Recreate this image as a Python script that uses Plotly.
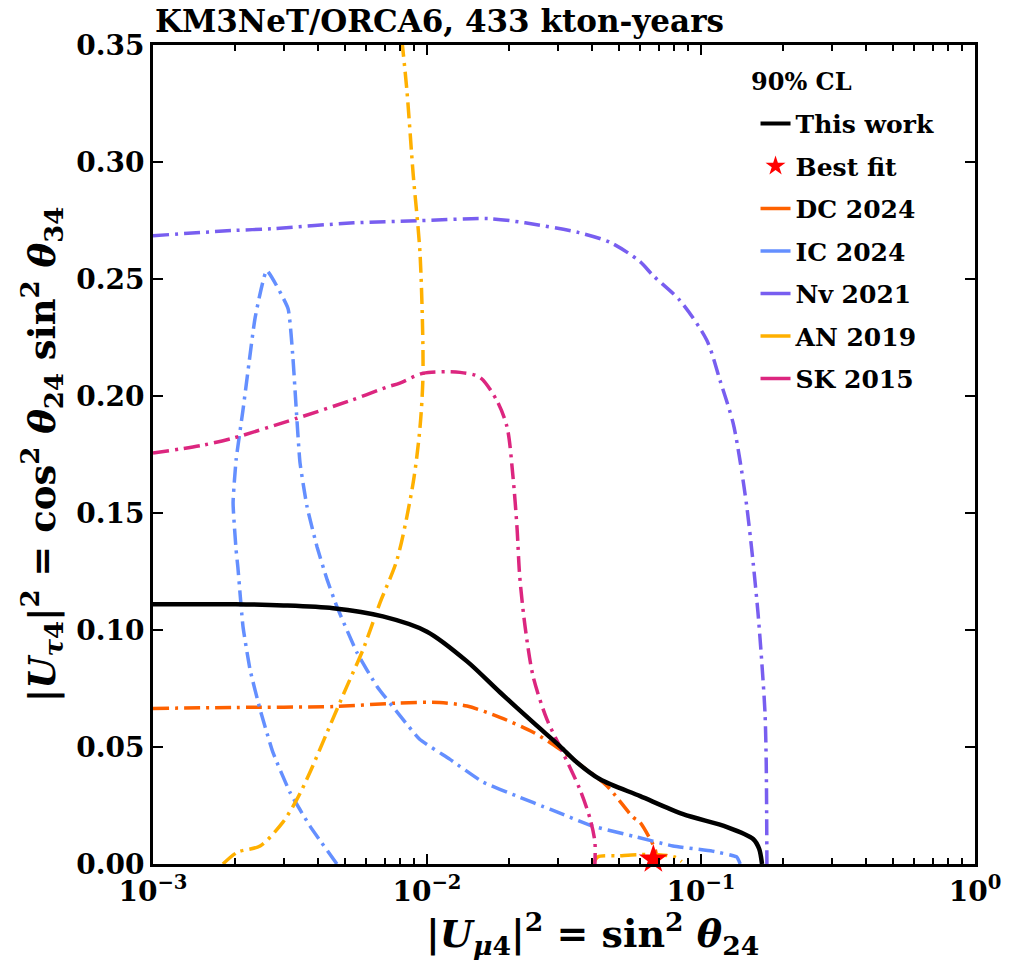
import plotly.graph_objects as go

# ---- 90% CL contours in the (|U_mu4|^2, |U_tau4|^2) plane ----
this_work_x = [0.001, 0.002, 0.003, 0.00454, 0.0069, 0.01, 0.014, 0.0185, 0.0244,
               0.0306, 0.0352, 0.0428, 0.060, 0.086, 0.1245, 0.155, 0.163, 0.167]
this_work_y = [0.111, 0.111, 0.1105, 0.1093, 0.1058, 0.0993, 0.0866, 0.0733, 0.0605,
               0.0503, 0.0435, 0.0362, 0.0290, 0.0213, 0.0158, 0.0107, 0.0065, 0.0]

best_fit_x = [0.067]
best_fit_y = [0.002]

dc2024_x = [0.001, 0.002, 0.0046, 0.0079, 0.0111, 0.014, 0.01845, 0.0244, 0.0298, 0.0361,
            0.0454, 0.0565, 0.0598, 0.0652, 0.068, 0.069]
dc2024_y = [0.0665, 0.0669, 0.0673, 0.0688, 0.069, 0.0675, 0.0627, 0.0563, 0.0499, 0.0426,
            0.0333, 0.0200, 0.0179, 0.0107, 0.0064, 0.002]

ic2024_x = [0.00469, 0.00374, 0.00316, 0.00274, 0.00246, 0.00226, 0.00213, 0.00204, 0.00201,
            0.00196, 0.00201, 0.00213, 0.00224, 0.00236, 0.0026, 0.00311, 0.00324, 0.00333,
            0.00344, 0.00365, 0.00397, 0.00432, 0.00469, 0.00555, 0.00657, 0.00817, 0.0094,
            0.0121, 0.016, 0.0213, 0.0281, 0.0403, 0.0565, 0.079, 0.11, 0.135, 0.139]
ic2024_y = [0.0, 0.0162, 0.0307, 0.0477, 0.066, 0.0831, 0.1015, 0.127, 0.1343,
            0.1543, 0.1726, 0.194, 0.214, 0.2336, 0.2536, 0.2374, 0.2165, 0.195,
            0.1714, 0.1526, 0.1355, 0.1215, 0.110, 0.0904, 0.0759, 0.0618, 0.0533,
            0.0448, 0.035, 0.029, 0.0234, 0.0162, 0.0119, 0.0077, 0.0055, 0.003, 0.0]

nv2021_x = [0.001, 0.00194, 0.00272, 0.00541, 0.00935, 0.01683, 0.0228, 0.0359, 0.0469,
            0.0598, 0.0668, 0.0838, 0.105, 0.1173, 0.131, 0.1387, 0.147, 0.155, 0.1614,
            0.1667, 0.1712, 0.173, 0.174]
nv2021_y = [0.2685, 0.2707, 0.2715, 0.274, 0.2749, 0.2758, 0.274, 0.2698, 0.2655,
            0.2575, 0.2515, 0.2408, 0.2238, 0.2067, 0.1884, 0.1726, 0.1526, 0.1287, 0.1074,
            0.0861, 0.0648, 0.0435, 0.0]

# two pieces: the main branch and a small island near the bottom (None splits them)
an2019_x = [0.0018, 0.00203, 0.00246, 0.00298, 0.003355, 0.00374, 0.00432, 0.0051, 0.00584,
            0.00674, 0.00777, 0.0089, 0.00943, 0.00967, 0.00943, 0.0089, 0.00845, 0.0081,
            None, 0.0405, 0.042, 0.05, 0.06, 0.07, 0.08, 0.085]
an2019_y = [0.0, 0.005, 0.0077, 0.0179, 0.0277, 0.0392, 0.0563, 0.0759, 0.0916,
            0.1117, 0.13, 0.1628, 0.1867, 0.2097, 0.2609, 0.295, 0.3303, 0.352,
            None, 0.0, 0.003, 0.0035, 0.004, 0.004, 0.003, 0.001]

sk2015_x = [0.001, 0.00152, 0.00196, 0.003355, 0.00524, 0.00714, 0.00796, 0.00967, 0.0132,
            0.0156, 0.018, 0.0196, 0.0206, 0.0213, 0.0218, 0.0228, 0.0244, 0.0274, 0.0313,
            0.0361, 0.0394, 0.041, 0.041]
sk2015_y = [0.1756, 0.179, 0.182, 0.1905, 0.198, 0.2038, 0.2055, 0.2097, 0.2101,
            0.208, 0.198, 0.1867, 0.1654, 0.144, 0.1228, 0.1015, 0.0801, 0.0618, 0.0477,
            0.032, 0.0192, 0.0094, 0.0]

x_tickvals = [1e-3, 1e-2, 1e-1, 1e0]
x_ticktext = ["10<sup>−3</sup>", "10<sup>−2</sup>", "10<sup>−1</sup>", "10<sup>0</sup>"]
x_minor = [m * 10 ** e for e in (-3, -2, -1) for m in range(2, 10)]
y_tickvals = [0.0, 0.05, 0.10, 0.15, 0.20, 0.25, 0.30, 0.35]
y_ticktext = ["0.00", "0.05", "0.10", "0.15", "0.20", "0.25", "0.30", "0.35"]

BLACK = "#000000"
ORANGE = "#FE6100"
BLUE = "#648FFF"
PURPLE = "#785EF0"
YELLOW = "#FFB000"
MAGENTA = "#DC267F"
DASHDOT = "16px,6px,3px,6px"
FONT = "DejaVu Serif"

fig = go.Figure()

contours = [
    ("DC 2024", dc2024_x, dc2024_y, ORANGE, 0.8),
    ("IC 2024", ic2024_x, ic2024_y, BLUE, 0.4),
    ("Nv 2021", nv2021_x, nv2021_y, PURPLE, 0.8),
    ("AN 2019", an2019_x, an2019_y, YELLOW, 0.8),
    ("SK 2015", sk2015_x, sk2015_y, MAGENTA, 0.8),
]
for name, xs, ys, col, smooth in contours:
    fig.add_trace(go.Scatter(x=xs, y=ys, mode="lines", name=name, showlegend=False,
                             line=dict(color=col, width=3.5, dash=DASHDOT,
                                       shape="spline", smoothing=smooth)))

fig.add_trace(go.Scatter(x=this_work_x, y=this_work_y, mode="lines", name="This work",
                         showlegend=False,
                         line=dict(color=BLACK, width=4.5, shape="spline", smoothing=0.8)))
fig.add_trace(go.Scatter(x=best_fit_x, y=best_fit_y, mode="markers", name="Best fit",
                         showlegend=False, cliponaxis=False,
                         marker=dict(symbol="star", size=22, color="#FF0000",
                                     line=dict(width=0))))

# legend entries (solid line samples)
legend_items = [("This work", BLACK, "line"), ("Best fit", "#FF0000", "star"),
                ("DC 2024", ORANGE, "line"), ("IC 2024", BLUE, "line"),
                ("Nv 2021", PURPLE, "line"), ("AN 2019", YELLOW, "line"),
                ("SK 2015", MAGENTA, "line")]
for i, (name, col, kind) in enumerate(legend_items):
    if kind == "line":
        fig.add_trace(go.Scatter(x=[None], y=[None], mode="lines", name=name,
                                 legendgroup=f"g{i}",
                                 line=dict(color=col, width=4 if name == "This work" else 3.5)))
    else:
        fig.add_trace(go.Scatter(x=[None], y=[None], mode="markers", name=name,
                                 legendgroup=f"g{i}",
                                 marker=dict(symbol="star", size=15, color=col)))

axis_common = dict(showline=True, linecolor="black", linewidth=3, mirror="allticks",
                   ticks="inside", tickcolor="black", tickwidth=2, ticklen=10,
                   showgrid=False, zeroline=False,
                   tickfont=dict(family=FONT, size=28, color="black", weight="bold"))

fig.update_xaxes(type="log", range=[-3, 0], tickmode="array", tickvals=x_tickvals,
                 ticktext=x_ticktext,
                 minor=dict(tickmode="array", tickvals=x_minor, ticks="inside",
                            ticklen=6, tickwidth=1.5, tickcolor="black", showgrid=False),
                 **axis_common)
fig.update_yaxes(range=[0, 0.35], tickmode="array", tickvals=y_tickvals, ticktext=y_ticktext,
                 title=dict(text="|<i>U</i><sub><i>τ</i>4</sub>|<sup>2</sup> = cos<sup>2</sup> <i>θ</i><sub>24</sub> sin<sup>2</sup> <i>θ</i><sub>34</sub>",
                            font=dict(family=FONT, size=37, color="black", weight="bold"),
                            standoff=10),
                 **axis_common)

# x-axis label
fig.add_annotation(text="|<i>U</i><sub><i>μ</i>4</sub>|<sup>2</sup> = sin<sup>2</sup> <i>θ</i><sub>24</sub>",
                   xref="paper", yref="paper", x=0.5, y=0.0, xanchor="center", yanchor="top",
                   xshift=28, yshift=-40, showarrow=False,
                   font=dict(family=FONT, size=38, color="black", weight="bold"))

fig.add_annotation(text="KM3NeT/ORCA6, 433 kton-years", xref="paper", yref="paper",
                   x=0.0, y=1.0, xanchor="left", yanchor="bottom", showarrow=False,
                   yshift=4,
                   font=dict(family=FONT, size=31, color="black", weight="bold"))

# legend heading
fig.add_annotation(text="90% CL", xref="paper", yref="paper",
                   x=0.725, y=0.956, xanchor="left", yanchor="middle", showarrow=False,
                   font=dict(family=FONT, size=24, color="black", weight="bold"))

fig.update_layout(
    width=1012, height=972,
    margin=dict(l=153, r=37, t=45, b=108),
    paper_bgcolor="white", plot_bgcolor="white",
    font=dict(family=FONT, color="black", weight="bold"),
    legend=dict(x=0.733, y=0.932, xanchor="left", yanchor="top",
                bgcolor="rgba(255,255,255,0)", borderwidth=0,
                font=dict(family=FONT, size=25, color="black", weight="bold"),
                tracegroupgap=7, traceorder="grouped", itemwidth=30),
)

fig.write_html("out.html")
